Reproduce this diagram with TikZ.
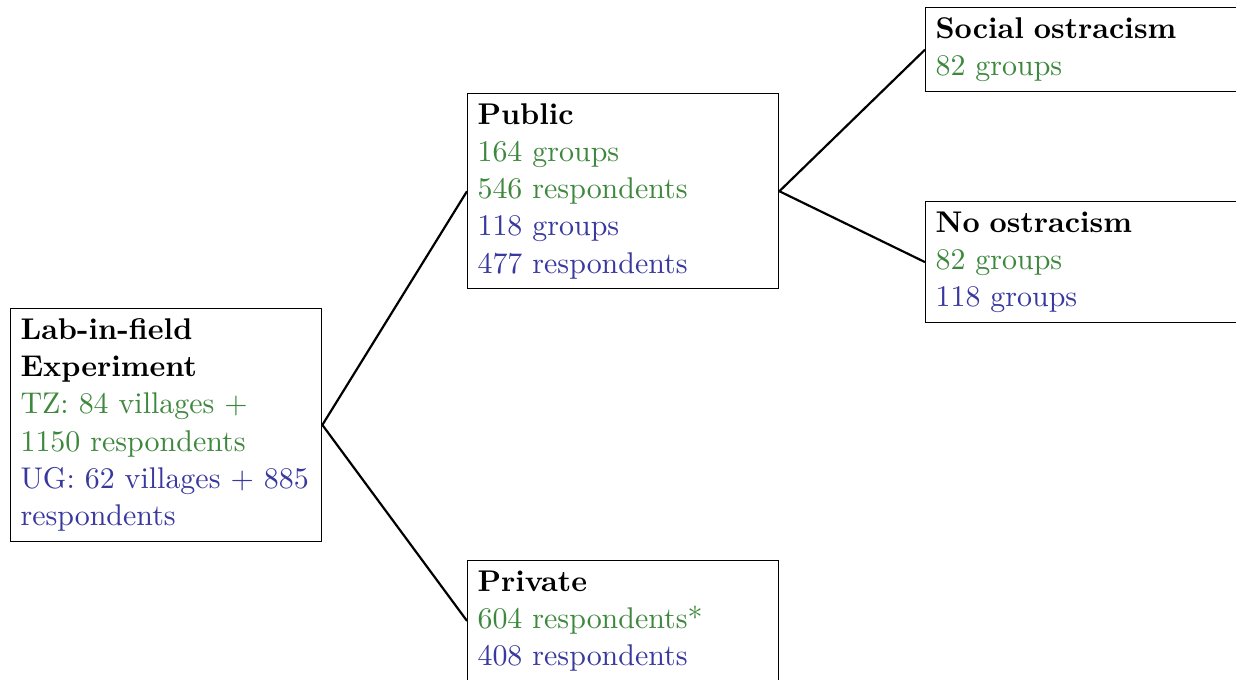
\documentclass[tikz,border=0pt]{standalone}
\definecolor{tzgreen}{RGB}{62,136,62}
\definecolor{ugblue}{RGB}{56,56,158}
\hyphenpenalty=10000
\exhyphenpenalty=10000
\begin{document}
\begin{tikzpicture}[x=0.3656pt,y=-0.3656pt,
  box/.style={draw, line width=0.4pt, anchor=north west, align=left,
    text width=106.5pt, inner sep=3.65pt,
    font=\fontsize{10.95pt}{13.6pt}\selectfont},
  conn/.style={line width=0.8pt}]
\useasboundingbox (0,0) rectangle (1236,679);
\clip (0,0) rectangle (1236,679);
\node[box] (exp) at (10,308) {\textbf{Lab-in-field Experiment}\\
  \textcolor{tzgreen}{TZ: 84 villages + 1150 respondents}\\
  \textcolor{ugblue}{UG: 62 villages + 885 respondents}};
\node[box] (pub) at (467,93) {\textbf{Public}\\
  \textcolor{tzgreen}{164 groups}\\
  \textcolor{tzgreen}{546 respondents}\\
  \textcolor{ugblue}{118 groups}\\
  \textcolor{ugblue}{477 respondents}};
\node[box] (priv) at (467,560) {\textbf{Private}\\
  \textcolor{tzgreen}{604 respondents*}\\
  \textcolor{ugblue}{408 respondents}};
\node[box] (soc) at (925,7) {\textbf{Social ostracism}\\
  \textcolor{tzgreen}{82 groups}};
\node[box] (nos) at (925,201) {\textbf{No ostracism}\\
  \textcolor{tzgreen}{82 groups}\\
  \textcolor{ugblue}{118 groups}};
\draw[conn] (exp.east) -- (pub.west);
\draw[conn] (exp.east) -- (priv.west);
\draw[conn] (pub.east) -- (soc.west);
\draw[conn] (pub.east) -- (nos.west);
\end{tikzpicture}
\end{document}
